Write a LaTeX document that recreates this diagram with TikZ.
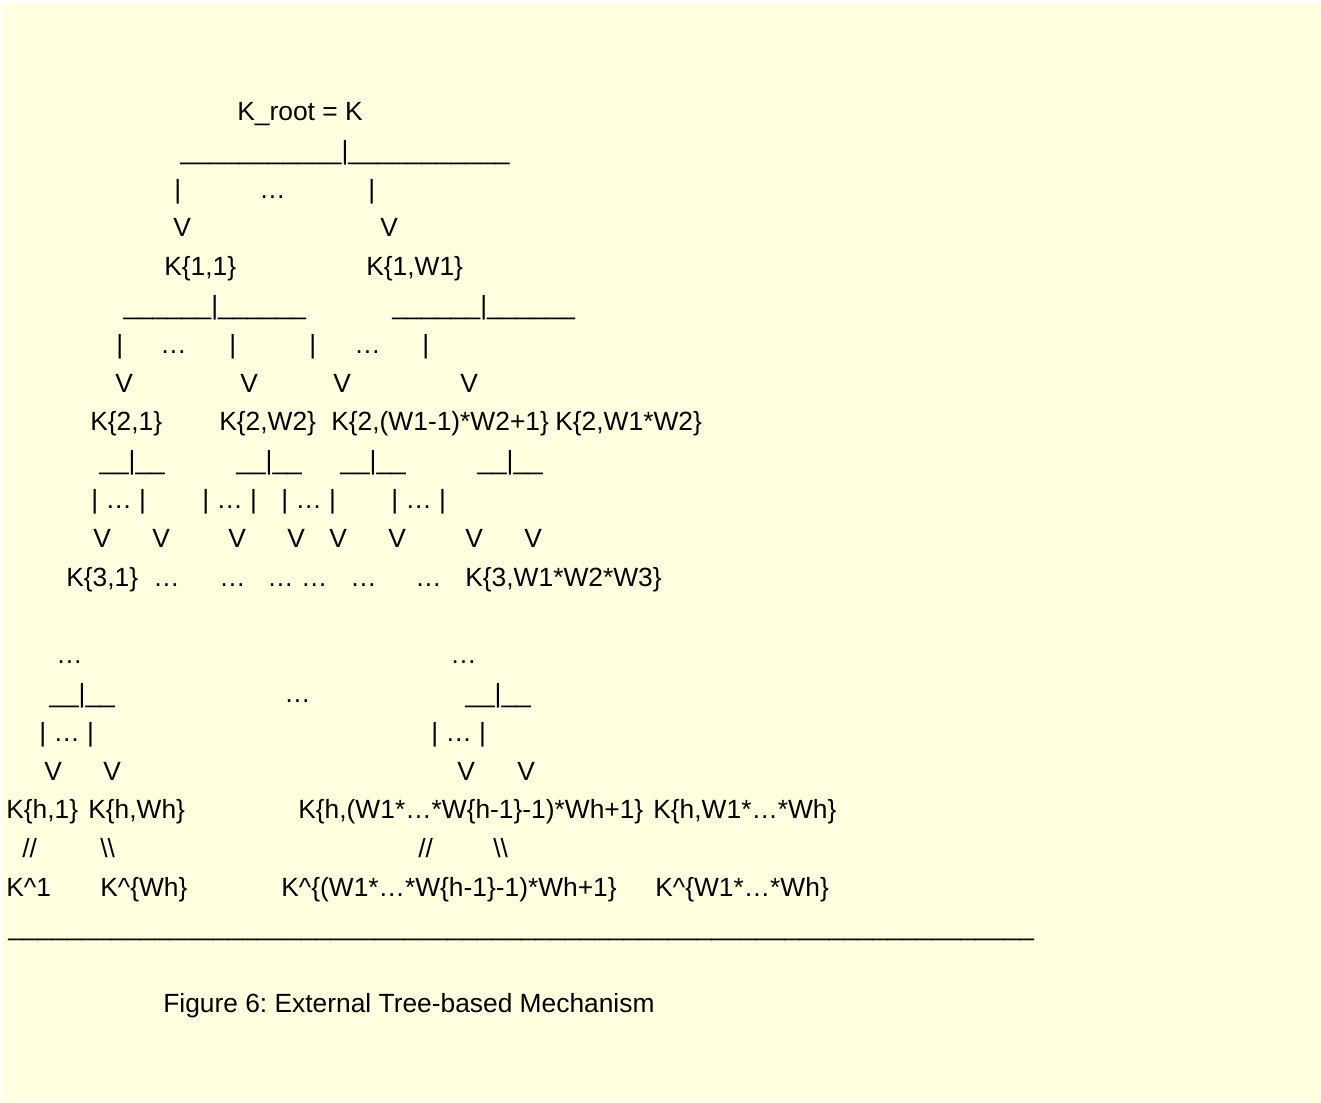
\documentclass[tikz,border=0pt]{standalone}
\usepackage{fontspec}
\setmainfont{Liberation Sans}
\frenchspacing
\definecolor{paper}{RGB}{255,255,224}
\newcommand{\underrun}[1]{\foreach \i in {1,...,#1}{\_}}

\begin{document}
\begin{tikzpicture}[x=0.02cm, y=-0.02cm,
    txt/.style={anchor=base west, inner sep=0pt, font=\fontsize{15}{18}\selectfont}]
  \useasboundingbox (0,0) rectangle (1321,1102);
  \fill[white] (0,0) rectangle (1321,1102);
  \fill[paper] (2,4) rectangle (1321,1102);

  % level 0
  \node[txt] (root) at (237,120.5) {K\_root = K};
  \node[txt] (br0) at (180,159.3) {\underrun{11}|\underrun{11}};
  \node[txt] (p1a) at (174,198.1) {|};
  \node[txt] (d1) at (259,198.1) {…};
  \node[txt] (p1b) at (368,198.1) {|};
  \node[txt] (v1a) at (173,236.9) {V};
  \node[txt] (v1b) at (380,236.9) {V};

  % level 1
  \node[txt] (k11) at (164,275.7) {K\{1,1\}};
  \node[txt] (k1w) at (366,275.7) {K\{1,W1\}};
  \node[txt] (br1a) at (123,314.5) {\underrun{6}|\underrun{6}};
  \node[txt] (br1b) at (392,314.5) {\underrun{6}|\underrun{6}};
  \node[txt] (p2a) at (116,353.3) {|};
  \node[txt] (d2a) at (160,353.3) {…};
  \node[txt] (p2b) at (229,353.3) {|};
  \node[txt] (p2c) at (309,353.3) {|};
  \node[txt] (d2b) at (354,353.3) {…};
  \node[txt] (p2d) at (422,353.3) {|};
  \node[txt] (v2a) at (115,392.1) {V};
  \node[txt] (v2b) at (240,392.1) {V};
  \node[txt] (v2c) at (333,392.1) {V};
  \node[txt] (v2d) at (460,392.1) {V};

  % level 2
  \node[txt] (k21) at (90,430.9) {K\{2,1\}};
  \node[txt] (k2w) at (219,430.9) {K\{2,W2\}};
  \node[txt] (k2m) at (331,430.9) {K\{2,(W1-1)*W2+1\}};
  \node[txt] (k2e) at (555,430.9) {K\{2,W1*W2\}};
  \node[txt] (br2a) at (99,469.7) {\underrun{2}|\underrun{2}};
  \node[txt] (br2b) at (236,469.7) {\underrun{2}|\underrun{2}};
  \node[txt] (br2c) at (340,469.7) {\underrun{2}|\underrun{2}};
  \node[txt] (br2d) at (477,469.7) {\underrun{2}|\underrun{2}};
  \node[txt] (p3a) at (91,508.5) {| … |};
  \node[txt] (p3b) at (202,508.5) {| … |};
  \node[txt] (p3c) at (281,508.5) {| … |};
  \node[txt] (p3d) at (391,508.5) {| … |};
  \node[txt] (v3a) at (93,547.3) {V};
  \node[txt] (v3b) at (152,547.3) {V};
  \node[txt] (v3c) at (228,547.3) {V};
  \node[txt] (v3d) at (287,547.3) {V};
  \node[txt] (v3e) at (329,547.3) {V};
  \node[txt] (v3f) at (388,547.3) {V};
  \node[txt] (v3g) at (465,547.3) {V};
  \node[txt] (v3h) at (524,547.3) {V};

  % level 3
  \node[txt] (k31) at (66,586.1) {K\{3,1\}};
  \node[txt] (d3a) at (153,586.1) {…};
  \node[txt] (d3b) at (219,586.1) {…};
  \node[txt] (d3c) at (267,586.1) {… …};
  \node[txt] (d3d) at (350,586.1) {…};
  \node[txt] (d3e) at (415,586.1) {…};
  \node[txt] (k3e) at (465,586.1) {K\{3,W1*W2*W3\}};

  % level h
  \node[txt] (d4a) at (56,663.7) {…};
  \node[txt] (d4b) at (450,663.7) {…};
  \node[txt] (brha) at (49,702.5) {\underrun{2}|\underrun{2}};
  \node[txt] (dh) at (284,702.5) {…};
  \node[txt] (brhb) at (465,702.5) {\underrun{2}|\underrun{2}};
  \node[txt] (pha) at (39,741.3) {| … |};
  \node[txt] (phb) at (431,741.3) {| … |};
  \node[txt] (vha) at (44,780.1) {V};
  \node[txt] (vhb) at (103,780.1) {V};
  \node[txt] (vhc) at (457,780.1) {V};
  \node[txt] (vhd) at (517,780.1) {V};
  \node[txt] (kh1) at (6,818.9) {K\{h,1\}};
  \node[txt] (khw) at (88,818.9) {K\{h,Wh\}};
  \node[txt] (khm) at (298,818.9) {K\{h,(W1*…*W\{h-1\}-1)*Wh+1\}};
  \node[txt] (khe) at (653,818.9) {K\{h,W1*…*Wh\}};

  % keys
  \node[txt] (sa) at (22,857.7) {//};
  \node[txt] (sb) at (100,857.7) {\textbackslash\textbackslash};
  \node[txt] (sc) at (418,857.7) {//};
  \node[txt] (sd) at (493,857.7) {\textbackslash\textbackslash};
  \node[txt] (ka) at (6,896.5) {K\textasciicircum 1};
  \node[txt] (kb) at (100,896.5) {K\textasciicircum\{Wh\}};
  \node[txt] (kc) at (281,896.5) {K\textasciicircum\{(W1*…*W\{h-1\}-1)*Wh+1\}};
  \node[txt] (kd) at (655,896.5) {K\textasciicircum\{W1*…*Wh\}};

  \node[txt] (rule) at (8,935.3) {\underrun{70}};
  \node[txt] (cap) at (163,1012.9) {Figure 6: External Tree-based Mechanism};
\end{tikzpicture}
\end{document}
